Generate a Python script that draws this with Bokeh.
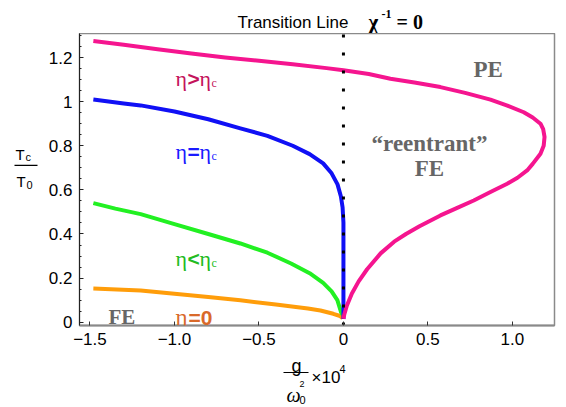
from bokeh.plotting import figure
from bokeh.models import Label, Range1d, FixedTicker
from bokeh.layouts import column, row
from bokeh.core.properties import value
from bokeh.embed import file_html
from bokeh.resources import INLINE

# ---------------- data ----------------
# eta > eta_c : upper branch then lower ("reentrant") branch
eta_gt_x = [-1.48, -1.3, -1.1, -0.9, -0.7, -0.5, -0.3, -0.1, 0.0, 0.15, 0.278, 0.42, 0.574,
            0.72, 0.87, 0.97, 1.067, 1.12, 1.166, 1.182, 1.19, 1.185, 1.166, 1.12, 1.087,
            1.03, 0.969, 0.87, 0.771, 0.67, 0.574, 0.45, 0.37, 0.30, 0.22, 0.14, 0.09, 0.05,
            0.02, 0.005, 0.0]
eta_gt_y = [1.275, 1.258, 1.238, 1.218, 1.200, 1.185, 1.170, 1.152, 1.142, 1.125, 1.104,
            1.087, 1.066, 1.040, 1.009, 0.982, 0.952, 0.928, 0.900, 0.875, 0.840, 0.800,
            0.764, 0.718, 0.688, 0.655, 0.628, 0.590, 0.552, 0.517, 0.484, 0.435, 0.400,
            0.365, 0.312, 0.240, 0.185, 0.130, 0.075, 0.035, 0.015]

# eta = eta_c
eta_c_x = [-1.48, -1.3, -1.2, -1.0, -0.8, -0.61, -0.45, -0.3, -0.2, -0.12, -0.07, -0.035,
           -0.015, -0.005, 0.0, 0.0]
eta_c_y = [1.010, 0.992, 0.983, 0.955, 0.920, 0.879, 0.845, 0.800, 0.762, 0.720, 0.675,
           0.625, 0.570, 0.520, 0.450, 0.015]

# eta < eta_c
eta_lt_x = [-1.48, -1.35, -1.2, -1.0, -0.8, -0.61, -0.45, -0.31, -0.2, -0.12, -0.07,
            -0.036, -0.014, -0.006]
eta_lt_y = [0.540, 0.515, 0.490, 0.445, 0.400, 0.357, 0.315, 0.266, 0.222, 0.178, 0.140,
            0.100, 0.045, 0.035]

# eta = 0
eta_0_x = [-1.48, -1.2, -1.0, -0.8, -0.61, -0.4, -0.21, -0.136, -0.06, -0.02, -0.005]
eta_0_y = [0.153, 0.144, 0.129, 0.114, 0.099, 0.080, 0.062, 0.053, 0.038, 0.028, 0.018]

# transition line chi^-1 = 0
transition_x = [0.0, 0.0]
transition_y = [-0.015, 1.309]

x_ticks = [-1.5, -1.0, -0.5, 0.0, 0.5, 1.0]
x_tick_labels = ["\u22121.5", "\u22121.0", "\u22120.5", "0", "0.5", "1.0"]
y_ticks = [0.0, 0.2, 0.4, 0.6, 0.8, 1.0, 1.2]
y_tick_labels = ["0", "0.2", "0.4", "0.6", "0.8", "1", "1.2"]
y_minor = [0.05, 0.1, 0.15, 0.25, 0.3, 0.35, 0.45, 0.5, 0.55, 0.65, 0.7, 0.75,
           0.85, 0.9, 0.95, 1.05, 1.1, 1.15, 1.25, 1.3]

XR = (-1.562, 1.249)
YR = (-0.015, 1.309)

# ---------------- page geometry ----------------
W, H = 566, 407
TOP_H = 33            # title strip
LEFT_W = 40           # y-label strip
MID_B = 354           # page y where the main figure ends
FL, FR, FT, FB = 79, 554, 33, 325   # frame edges (page pixels)

SERIF = "Liberation Serif"
SANS = "Liberation Sans"
GRAY = "#666666"


def strip(w, h, x0, y0):
    """blank figure whose frame is the whole canvas; data units == page pixels"""
    f = figure(width=w, height=h, output_backend="svg", toolbar_location=None,
               x_range=Range1d(x0, x0 + w), y_range=Range1d(y0 + h, y0),
               x_axis_type=None, y_axis_type=None,
               min_border_left=0, min_border_right=0, min_border_top=0, min_border_bottom=0)
    f.grid.visible = False
    f.outline_line_color = None
    f.background_fill_color = "white"
    f.border_fill_color = "white"
    return f


def txt(f, px, py, text, size, font=SANS, style="normal", color="black", align="left"):
    f.text(x=[px], y=[py], text=[text], text_font=value(font),
           text_font_size=value(f"{size}px"), text_font_style=style,
           text_color=color, text_align=align, text_baseline="alphabetic")


# ---------------- main figure ----------------
MID_H = MID_B - TOP_H
MAIN_W = W - LEFT_W
p = figure(width=MAIN_W, height=MID_H, output_backend="svg", toolbar_location=None,
           x_range=Range1d(*XR), y_range=Range1d(*YR),
           min_border_left=FL - LEFT_W, min_border_right=W - FR,
           min_border_top=FT - TOP_H, min_border_bottom=MID_B - FB)
p.grid.visible = False
p.background_fill_color = "white"
p.border_fill_color = "white"
p.outline_line_color = "#8a8a8a"
p.outline_line_width = 1.5

p.xaxis.ticker = FixedTicker(ticks=x_ticks, minor_ticks=[])
p.xaxis.major_label_overrides = dict(zip(x_ticks, x_tick_labels))
p.yaxis.ticker = FixedTicker(ticks=y_ticks, minor_ticks=y_minor)
p.yaxis.major_label_overrides = dict(zip(y_ticks, y_tick_labels))
for ax in (p.xaxis[0], p.yaxis[0]):
    ax.major_tick_in = 4
    ax.major_tick_out = 0
    ax.minor_tick_in = 2
    ax.minor_tick_out = 0
    ax.major_label_text_font = SANS
    ax.major_label_text_font_size = "17px"
    ax.major_label_text_color = "black"
    ax.major_label_standoff = 7
p.xaxis.axis_line_color = "#8a8a8a"
p.xaxis.axis_line_width = 2
p.xaxis.major_tick_line_color = "#333333"
p.yaxis.axis_line_color = "#222222"
p.yaxis.axis_line_width = 1
p.yaxis.major_tick_line_color = "#222222"
p.yaxis.minor_tick_line_color = "#222222"

# curves
p.line(eta_0_x, eta_0_y, line_width=4, color="#FF9D0A", line_join="round")
p.line(eta_lt_x, eta_lt_y, line_width=4, color="#22F022", line_join="round")
p.line(eta_c_x, eta_c_y, line_width=4, color="#1010F5", line_join="round")
p.line(eta_gt_x, eta_gt_y, line_width=4, color="#F5158F", line_join="round")
p.line(transition_x, transition_y, line_width=3, color="black",
       line_dash="3 15", line_cap="butt")


def to_data(px, py):
    x = XR[0] + (px - FL) * (XR[1] - XR[0]) / (FR - FL)
    y = YR[1] - (py - FT) * (YR[1] - YR[0]) / (FB - FT)
    return x, y


def lab(px, py, text, size, font=SANS, style="normal", color="black", align="left"):
    x, y = to_data(px, py)
    p.add_layout(Label(x=x, y=y, text=text, text_font=font, text_font_size=f"{size}px",
                       text_font_style=style, text_color=color, text_align=align,
                       text_baseline="alphabetic"))


# region labels
lab(473, 69, "PE", 23, font=SERIF, style="bold", color=GRAY)
lab(429, 143, "\u201creentrant\u201d", 23, font=SERIF, style="bold", color=GRAY, align="center")
lab(429, 168, "FE", 23, font=SERIF, style="bold", color=GRAY, align="center")
lab(108, 316, "FE", 21, font=SERIF, style="bold", color=GRAY)


def eta_label(py, sym, color):
    lab(175, py, "\u03b7", 22, font=SERIF, color=color)
    lab(187, py, sym, 21, style="bold", color=color)
    lab(199, py, "\u03b7", 22, font=SERIF, color=color)
    lab(211, py + 4, "c", 12, font=SERIF, color=color)


eta_label(78, ">", "#C4145C")
eta_label(151, "=", "#1A1AFF")
eta_label(258, "<", "#22BB22")
lab(175, 317, "\u03b7", 23, font=SERIF, color="#D9692A")
lab(188, 317, "=0", 21, style="bold", color="#D9692A")

# ---------------- title strip ----------------
top = strip(W, TOP_H, 0, 0)
txt(top, 237, 22, "Transition Line", 17)
txt(top, 368, 21, "\u03c7", 21, font=SERIF, style="bold")
txt(top, 381, 13, "-1", 12, font=SERIF, style="bold")
txt(top, 396, 21, "= 0", 20, font=SERIF, style="bold")

# ---------------- y-label strip ----------------
left = strip(LEFT_W, MID_H, 0, TOP_H)
txt(left, 15, 166, "T", 15)
txt(left, 25, 169, "c", 11)
left.segment(x0=[14], y0=[178], x1=[37], y1=[178], line_width=1.2, color="black")
txt(left, 16, 196, "T", 15)
txt(left, 26, 199, "0", 11)

# ---------------- x-label strip ----------------
bot = strip(W, H - MID_B, 0, MID_B)
txt(bot, 291, 365, "g", 18)
bot.segment(x0=[283], y0=[372], x1=[308], y1=[372], line_width=1.2, color="black")
txt(bot, 286, 394, "\u03c9", 20, font=SERIF, style="italic")
txt(bot, 299, 383, "2", 9)
txt(bot, 299, 399, "0", 11)
txt(bot, 311, 377, "\u00d710", 17)
txt(bot, 339, 368, "4", 11)

layout = column(top, row(left, p, spacing=0), bot, spacing=0)
open("out.html", "w").write(file_html(layout, INLINE))
